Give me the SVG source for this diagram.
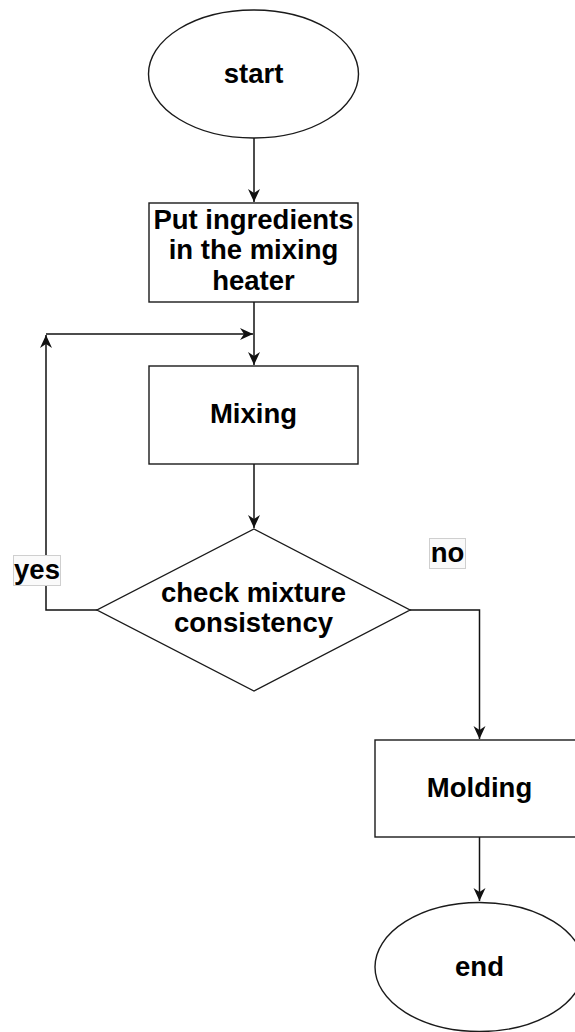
<svg xmlns="http://www.w3.org/2000/svg" width="575" height="1032" viewBox="0 0 575 1032">
<style>
.shape{fill:#ffffff;stroke:#1a1a1a;stroke-width:1.4}
.edge{fill:none;stroke:#111111;stroke-width:1.5}
.t{font-family:"Liberation Sans",Arial,Helvetica,sans-serif;font-weight:bold;font-size:27.5px;fill:#000;text-anchor:middle}
.lbl{fill:#fafafa;stroke:#cfcfcf;stroke-width:1}
</style>
<defs>
<marker id="arr" markerUnits="userSpaceOnUse" markerWidth="14" markerHeight="14" refX="13" refY="7" orient="auto">
<path d="M0,1 L13,7 L0,13 L4,7 z" fill="#111111"/>
</marker>
</defs>
<rect width="575" height="1032" fill="#ffffff"/>
<g id="connectors">
<path class="edge" d="M254,138 V202" marker-end="url(#arr)"/>
<path class="edge" d="M254,302 V365" marker-end="url(#arr)"/>
<path class="edge" d="M254,464 V528" marker-end="url(#arr)"/>
<path class="edge" d="M97,610 H46 V335" marker-end="url(#arr)"/>
<path class="edge" d="M46,334 H253" marker-end="url(#arr)"/>
<path class="edge" d="M410,610 H479.5 V739" marker-end="url(#arr)"/>
<path class="edge" d="M479.5,837 V901" marker-end="url(#arr)"/>
<g id="label-yes">
<rect class="lbl" x="13.5" y="555.5" width="47" height="30"/>
<text class="t" x="37" y="579">yes</text>
</g>
<g id="label-no">
<rect class="lbl" x="429.5" y="538.5" width="36" height="30"/>
<text class="t" x="447.5" y="562">no</text>
</g>
</g>
<g id="start">
<ellipse class="shape" cx="253.5" cy="74" rx="105" ry="64"/>
<text class="t" x="253.5" y="83">start</text>
</g>
<g id="put-ingredients">
<rect class="shape" x="149" y="203" width="209" height="99"/>
<text class="t" x="253.5" y="229">Put ingredients</text>
<text class="t" x="253.5" y="259">in the mixing</text>
<text class="t" x="253.5" y="290">heater</text>
</g>
<g id="mixing">
<rect class="shape" x="149" y="366" width="209" height="98"/>
<text class="t" x="253.5" y="423">Mixing</text>
</g>
<g id="check">
<polygon class="shape" points="254,529 410,610 254,691 97,610"/>
<text class="t" x="253.5" y="602">check mixture</text>
<text class="t" x="253.5" y="632">consistency</text>
</g>
<g id="molding">
<rect class="shape" x="375" y="740" width="209" height="97"/>
<text class="t" x="479.5" y="797">Molding</text>
</g>
<g id="end">
<ellipse class="shape" cx="479.5" cy="967" rx="104.5" ry="64.5"/>
<text class="t" x="479.5" y="976">end</text>
</g>
</svg>
